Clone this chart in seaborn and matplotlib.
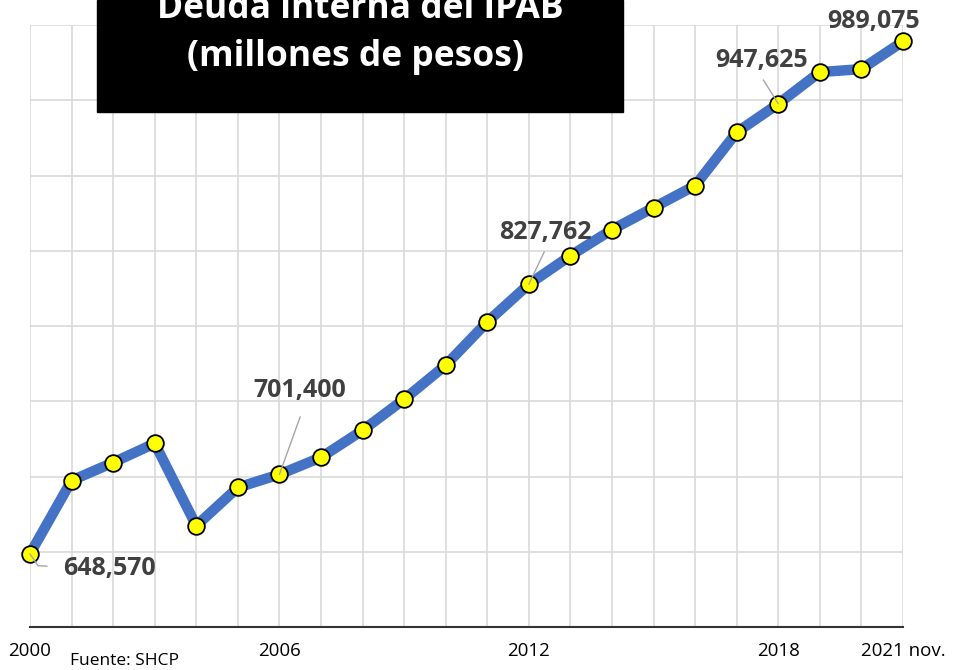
import matplotlib
matplotlib.use("Agg")
import matplotlib.pyplot as plt
import seaborn as sns
import pandas as pd

# Deuda interna del IPAB, millones de pesos
years = list(range(2000, 2022))
deuda = [648570, 697300, 709300, 722000, 667300, 692700, 701400, 712700,
         730700, 751300, 774000, 802700, 827762, 846700, 864000, 878700,
         893300, 928700, 947625, 968700, 970700, 989075]
tick_labels = ["2000", "", "", "", "", "", "2006", "", "", "", "", "",
               "2012", "", "", "", "", "", "2018", "", "", "2021 nov."]

# which points carry a data label, and where the label / leader line go
label_years = [2000, 2006, 2012, 2018, 2021]
label_offsets = [(0.8, -9500), (0.5, 56000), (0.4, 34500), (-0.4, 29000), (-0.7, 13000)]
leader_ends = [[(0.19, -7800), (0.41, -8200)], [(0.5, 38300)], [(0.37, 21500)],
               [(-0.36, 15900)], None]

df = pd.DataFrame({"year": years, "deuda": deuda})

sns.set_style("white")
plt.rcParams["font.family"] = ["Open Sans", "DejaVu Sans"]

fig = plt.figure(figsize=(9.64, 6.70), dpi=100)
ax = fig.add_axes([30 / 964, 43 / 670, 873 / 964, 602 / 670])

sns.lineplot(data=df, x="year", y="deuda", ax=ax, color="#4472C4",
             linewidth=7.5, marker="o", markersize=12,
             markerfacecolor="#FFFF00", markeredgecolor="black",
             markeredgewidth=1.3, zorder=3, clip_on=False)

ax.set_xlim(2000, 2021)
ax.set_ylim(600000, 1000000)
ax.set_xticks(years)
ax.set_xticklabels(tick_labels, fontsize=13.5, color="black")
ax.set_yticks(range(600000, 1000001, 50000))
ax.set_yticklabels([])
ax.tick_params(axis="y", length=0)
ax.tick_params(axis="x", direction="inout", length=10, width=1.3,
               color="#333333", pad=6)
ax.grid(True, color="#d9d9d9", linewidth=1.2)
ax.set_axisbelow(True)
for s in ["top", "right", "left"]:
    ax.spines[s].set_visible(False)
ax.spines["bottom"].set_color("#333333")
ax.spines["bottom"].set_linewidth(1.5)
ax.set_xlabel("")
ax.set_ylabel("")

for yr, off, le in zip(label_years, label_offsets, leader_ends):
    v = deuda[years.index(yr)]
    ax.text(yr + off[0], v + off[1], f"{v:,}", fontsize=18, fontweight="bold",
            color="#404040", ha="left" if yr == 2000 else "center",
            va="center", zorder=5)
    if le is not None:
        xs = [yr] + [yr + p[0] for p in le]
        ys = [v] + [v + p[1] for p in le]
        ax.plot(xs, ys, color="#a6a6a6", linewidth=1, zorder=4, clip_on=False)

# title box
fig.patches.append(plt.Rectangle((97 / 964, 1 - 112 / 670), 526 / 964, 112 / 670,
                                 transform=fig.transFigure, color="black",
                                 zorder=10))
fig.text(360 / 964, 1 - 18 / 670, "Deuda interna del IPAB", color="white",
         fontsize=25.5, fontweight="bold", ha="center", va="baseline", zorder=11)
fig.text(355 / 964, 1 - 66 / 670, "(millones de pesos)", color="white",
         fontsize=25.5, fontweight="bold", ha="center", va="baseline", zorder=11)

fig.text(70 / 964, 1 - 661 / 670, "Fuente: SHCP", fontsize=12.5,
         color="black", ha="left", va="center")

fig.savefig("out.png", dpi=100)
